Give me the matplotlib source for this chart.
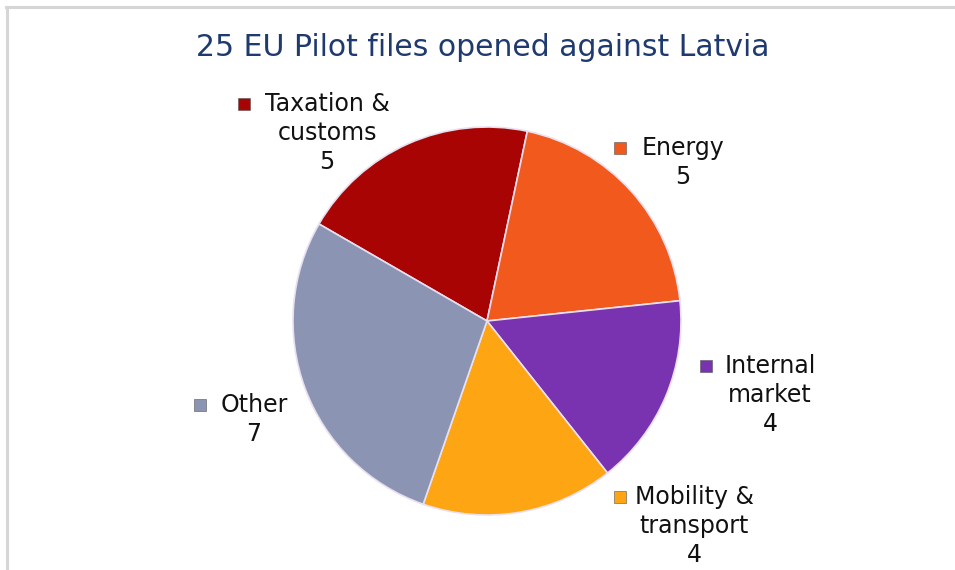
import matplotlib
matplotlib.use("Agg")
import matplotlib.pyplot as plt
from matplotlib.patches import Rectangle
from matplotlib.lines import Line2D

title = "25 EU Pilot files opened against Latvia"
categories = ["Taxation &\ncustoms", "Energy", "Internal\nmarket", "Mobility &\ntransport", "Other"]
values = [5, 5, 4, 4, 7]
colors = ["#A80404", "#F15A1C", "#7A33B0", "#FDA512", "#8B95B3"]

W, H = 955, 570
fig = plt.figure(figsize=(W / 100, H / 100), dpi=100)
fig.patch.set_facecolor("white")
ax = fig.add_axes([0, 0, 1, 1])

# frame lines (top and left)
fig.add_artist(Line2D([6 / W, 1], [1 - 7 / H, 1 - 7 / H], color="#D6D6D6", lw=2.2))
fig.add_artist(Line2D([6.5 / W, 6.5 / W], [0, 1 - 7 / H], color="#D6D6D6", lw=2.2))

cx, cy, r = 487, H - 321, 194
wedges, _ = ax.pie(values, colors=colors, startangle=150, counterclock=False,
                   center=(cx, cy), radius=r, frame=True,
                   wedgeprops=dict(edgecolor="#E8E0F0", linewidth=1.2))
ax.set_xlim(0, W)
ax.set_ylim(0, H)
ax.set_aspect("equal")
ax.axis("off")

ax.text(483, H - 47, title, ha="center", va="center", fontsize=21.5,
        color="#1F3A6E", family="DejaVu Sans")

# label positions (first-line centre) and marker positions
label_pos = [(327, 104), (683, 148), (770, 366), (694, 497), (254, 405)]
marker_pos = [(244, 104), (620, 148), (706, 366), (620, 497), (200, 405)]
lh = 29
for cat, val, col, (tx, ty), (mx, my) in zip(categories, values, colors, label_pos, marker_pos):
    lines = cat.split("\n") + [str(val)]
    for i, ln in enumerate(lines):
        ax.text(tx, H - (ty + i * lh), ln, ha="center", va="center",
                fontsize=17, color="#111111", family="DejaVu Sans")
    s = 12
    ax.add_patch(Rectangle((mx - s / 2, H - my - s / 2), s, s, facecolor=col,
                           edgecolor="#555555", linewidth=0.4))

fig.savefig("out.png", dpi=100, facecolor="white")
